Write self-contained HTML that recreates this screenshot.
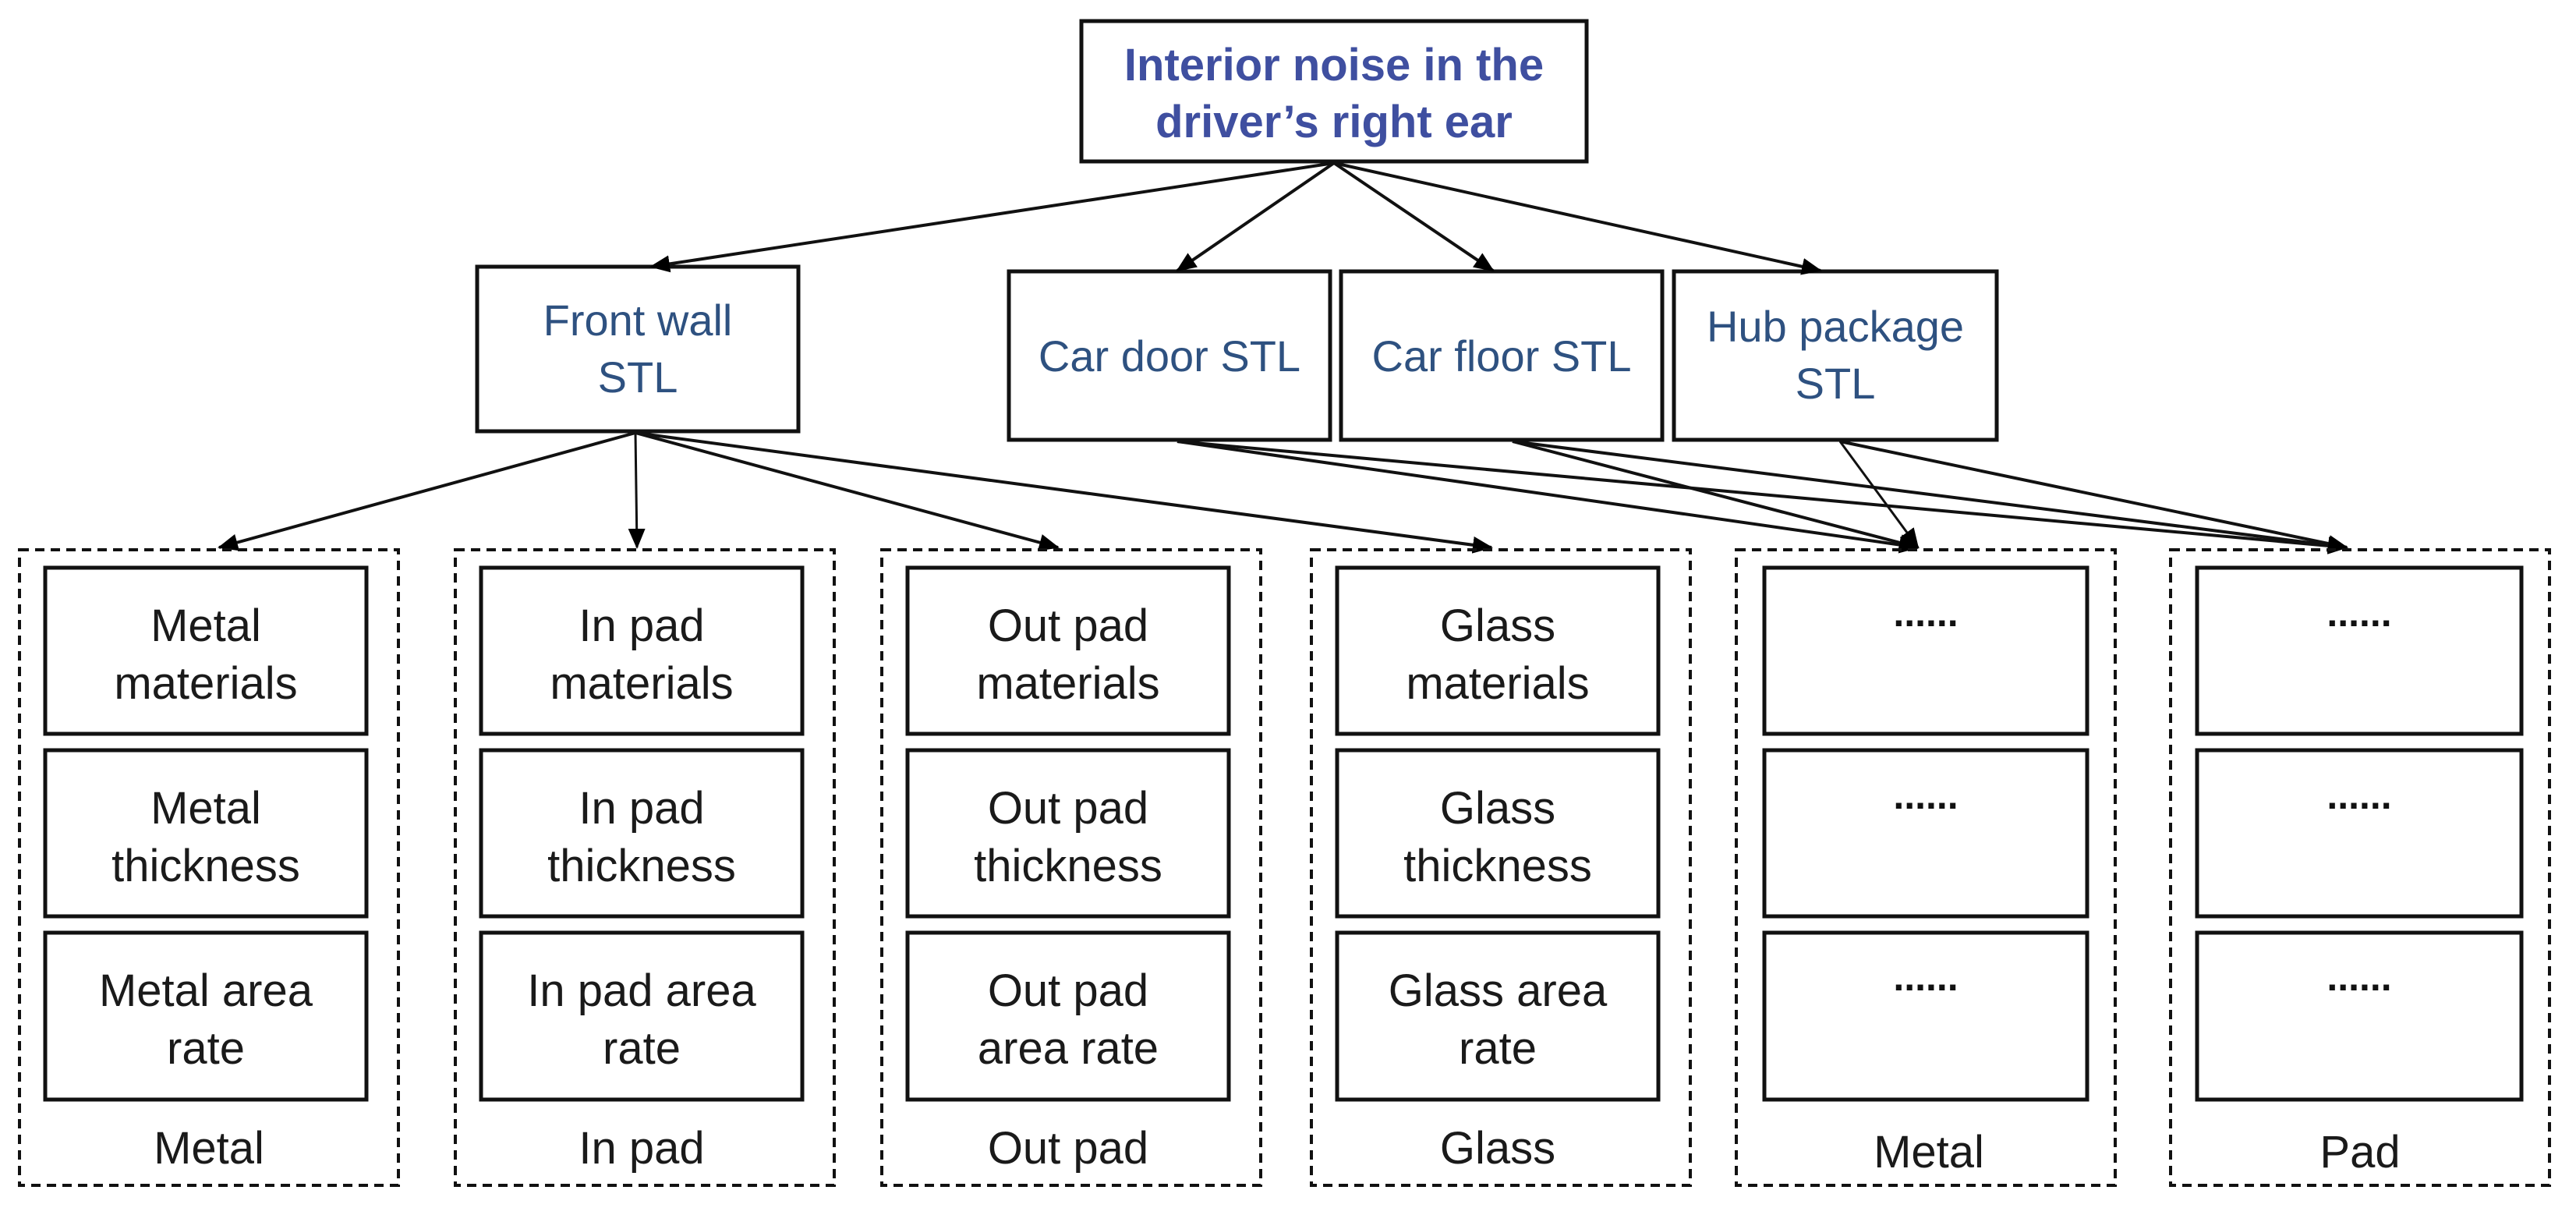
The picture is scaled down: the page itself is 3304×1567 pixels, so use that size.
<!DOCTYPE html>
<html><head><meta charset="utf-8"><style>
html,body{margin:0;padding:0;background:#fff;}
svg{display:block;}
text{font-family:"Liberation Sans",sans-serif;text-anchor:middle;}
</style></head><body>
<svg width="3304" height="1567" viewBox="0 0 3304 1567" xmlns="http://www.w3.org/2000/svg">
<defs>
<marker id="a" markerWidth="26" markerHeight="22" refX="24" refY="11" orient="auto" markerUnits="userSpaceOnUse" viewBox="0 0 26 22">
<path d="M0,0 L26,11 L0,22 z" fill="#000"/>
</marker>
</defs>
<rect width="3304" height="1567" fill="#fff"/>
<g fill="none" stroke="#111" stroke-width="5">
<rect x="1387" y="27" width="648" height="180"/>
<rect x="612" y="342" width="412" height="211"/>
<rect x="1294" y="348" width="412" height="216"/>
<rect x="1720" y="348" width="412" height="216"/>
<rect x="2147" y="348" width="414" height="216"/>
</g>
<g font-size="58" font-weight="bold" fill="#3f4fa0">
<text x="1711" y="103">Interior noise in the</text>
<text x="1711" y="176">driver’s right ear</text>
</g>
<g font-size="56" fill="#2e5180">
<text x="818" y="430">Front wall</text>
<text x="818" y="503">STL</text>
<text x="1500" y="476">Car door STL</text>
<text x="1926" y="476">Car floor STL</text>
<text x="2354" y="438">Hub package</text>
<text x="2354" y="511">STL</text>
</g>
<g stroke="#111" stroke-width="4" fill="none" marker-end="url(#a)">
<line x1="1711" y1="209" x2="835" y2="342"/>
<line x1="1711" y1="209" x2="1510" y2="347"/>
<line x1="1711" y1="209" x2="1915" y2="347"/>
<line x1="1711" y1="209" x2="2335" y2="347"/>
<line x1="815" y1="555" x2="281" y2="702"/>
<line x1="815" y1="555" x2="817" y2="702" stroke-width="3"/>
<line x1="815" y1="555" x2="1357" y2="702"/>
<line x1="815" y1="555" x2="1913" y2="702"/>
<line x1="1510" y1="566" x2="2460" y2="702"/>
<line x1="1510" y1="566" x2="3010" y2="702"/>
<line x1="1940" y1="566" x2="2460" y2="702"/>
<line x1="1940" y1="566" x2="3010" y2="702"/>
<line x1="2360" y1="566" x2="2460" y2="702" stroke-width="3"/>
<line x1="2360" y1="566" x2="3010" y2="702"/>
</g>
<g fill="none" stroke="#111" stroke-width="4" stroke-dasharray="12,8">
<rect x="25" y="705" width="486" height="815"/>
<rect x="584" y="705" width="486" height="815"/>
<rect x="1131" y="705" width="486" height="815"/>
<rect x="1682" y="705" width="486" height="815"/>
<rect x="2227" y="705" width="486" height="815"/>
<rect x="2784" y="705" width="486" height="815"/>
</g>
<g fill="none" stroke="#111" stroke-width="5">
<rect x="58" y="728" width="412" height="213"/><rect x="58" y="962" width="412" height="213"/><rect x="58" y="1196" width="412" height="214"/>
<rect x="617" y="728" width="412" height="213"/><rect x="617" y="962" width="412" height="213"/><rect x="617" y="1196" width="412" height="214"/>
<rect x="1164" y="728" width="412" height="213"/><rect x="1164" y="962" width="412" height="213"/><rect x="1164" y="1196" width="412" height="214"/>
<rect x="1715" y="728" width="412" height="213"/><rect x="1715" y="962" width="412" height="213"/><rect x="1715" y="1196" width="412" height="214"/>
<rect x="2263" y="728" width="414" height="213"/><rect x="2263" y="962" width="414" height="213"/><rect x="2263" y="1196" width="414" height="214"/>
<rect x="2818" y="728" width="416" height="213"/><rect x="2818" y="962" width="416" height="213"/><rect x="2818" y="1196" width="416" height="214"/>
</g>
<g font-size="58" fill="#1a1a1a">
<text x="264" y="822">Metal</text><text x="264" y="896">materials</text>
<text x="264" y="1056">Metal</text><text x="264" y="1130">thickness</text>
<text x="264" y="1290">Metal area</text><text x="264" y="1364">rate</text>
<text x="268" y="1492">Metal</text>
<text x="823" y="822">In pad</text><text x="823" y="896">materials</text>
<text x="823" y="1056">In pad</text><text x="823" y="1130">thickness</text>
<text x="823" y="1290">In pad area</text><text x="823" y="1364">rate</text>
<text x="823" y="1492">In pad</text>
<text x="1370" y="822">Out pad</text><text x="1370" y="896">materials</text>
<text x="1370" y="1056">Out pad</text><text x="1370" y="1130">thickness</text>
<text x="1370" y="1290">Out pad</text><text x="1370" y="1364">area rate</text>
<text x="1370" y="1492">Out pad</text>
<text x="1921" y="822">Glass</text><text x="1921" y="896">materials</text>
<text x="1921" y="1056">Glass</text><text x="1921" y="1130">thickness</text>
<text x="1921" y="1290">Glass area</text><text x="1921" y="1364">rate</text>
<text x="1921" y="1492">Glass</text>
<text x="2474" y="1497">Metal</text>
<text x="3027" y="1497">Pad</text>
</g>
<g font-size="50" font-weight="bold" fill="#111">
<text x="2470" y="803">......</text><text x="2470" y="1037">......</text><text x="2470" y="1270">......</text>
<text x="3026" y="803">......</text><text x="3026" y="1037">......</text><text x="3026" y="1270">......</text>
</g>
</svg>
</body></html>
